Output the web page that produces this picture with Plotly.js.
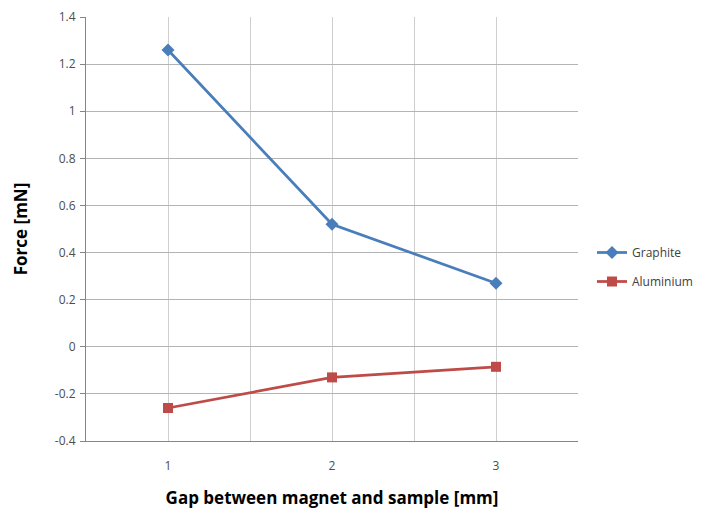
<!DOCTYPE html>
<html><head><meta charset="utf-8">
<script src="https://cdn.plot.ly/plotly-3.0.1.min.js"></script>
<style>html,body{margin:0;padding:0;background:#fff}#chart{width:706px;height:513px}</style>
</head><body><div id="chart"></div>
<script>
const gaps = [1, 2, 3];
const graphite = [1.26, 0.52, 0.27];
const aluminium = [-0.26, -0.13, -0.085];
const yTicks = [-0.4, -0.2, 0, 0.2, 0.4, 0.6, 0.8, 1, 1.2, 1.4];
const yTickText = ['-0.4', '-0.2', '0', '0.2', '0.4', '0.6', '0.8', '1', '1.2', '1.4'];

const traces = [
  {x: gaps, y: graphite, name: 'Graphite', mode: 'lines+markers', legendgroup: 'g',
   line: {color: '#4a7ebb', width: 2.75},
   marker: {symbol: 'diamond', size: 10, color: '#4a7ebb'}},
  {x: gaps, y: aluminium, name: 'Aluminium', mode: 'lines+markers', legendgroup: 'a',
   line: {color: '#be4b48', width: 2.75},
   marker: {symbol: 'square', size: 10, color: '#be4b48'}}
];

const layout = {
  width: 706, height: 513,
  margin: {l: 86, r: 128, t: 17, b: 72, autoexpand: false},
  paper_bgcolor: '#fff', plot_bgcolor: '#fff',
  font: {family: 'Open Sans, sans-serif', color: '#4d4d4d', size: 12},
  showlegend: true,
  legend: {xref: 'container', yref: 'container', x: 592/706, y: 1 - 267/513,
           xanchor: 'left', yanchor: 'middle', traceorder: 'grouped',
           font: {size: 12, color: '#404040'}, tracegroupgap: 10, itemwidth: 30,
           bgcolor: 'rgba(0,0,0,0)'},
  xaxis: {
    range: [0.5, 3.5], tickvals: gaps, ticktext: gaps.map(String),
    showgrid: true, gridcolor: '#cfcfcf', gridwidth: 1,
    minor: {tick0: 0.5, dtick: 1, showgrid: true, gridcolor: '#cfcfcf', gridwidth: 1},
    showline: true, linecolor: '#868686', linewidth: 1,
    ticks: '', ticklabelstandoff: 14, zeroline: false,
    title: {text: 'Gap between magnet and sample [mm]', standoff: 18,
            font: {family: 'Open Sans, sans-serif', size: 17, color: '#000', weight: 'bold'}}
  },
  yaxis: {
    range: [-0.4, 1.4], tickvals: yTicks, ticktext: yTickText,
    showgrid: true, gridcolor: '#b4b4b4', gridwidth: 1,
    showline: true, linecolor: '#868686', linewidth: 1,
    ticks: 'outside', ticklen: 5, tickcolor: '#868686', ticklabelstandoff: 2,
    zeroline: false,
    title: {text: 'Force [mN]', standoff: 22,
            font: {family: 'Open Sans, sans-serif', size: 17, color: '#000', weight: 'bold'}}
  }
};

Plotly.newPlot('chart', traces, layout, {displayModeBar: false, staticPlot: true});
</script>
</body></html>
